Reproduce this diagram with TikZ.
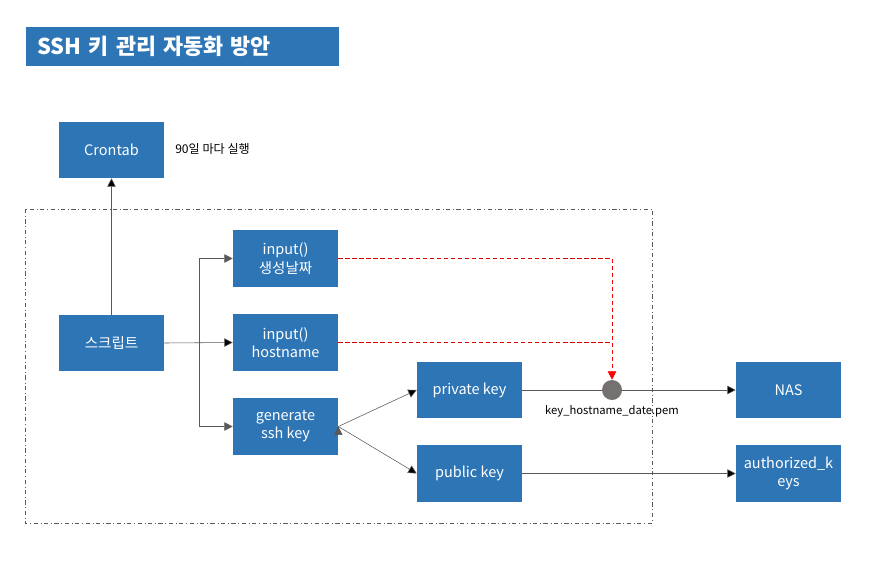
\documentclass[tikz,border=0pt]{standalone}
\usepackage{fontspec}
\setmainfont{Noto Sans CJK KR}
\usepackage{xcolor}
\definecolor{boxcolor}{HTML}{2E75B6}
\definecolor{linecolor}{HTML}{595959}
\definecolor{dotcolor}{HTML}{767171}
\usetikzlibrary{arrows.meta, positioning, calc}

\begin{document}
\begin{tikzpicture}
        [
          x=0.025cm, y=-0.025cm,
          stepbox/.style={fill=boxcolor, text=white, align=center, minimum width=2.625cm, minimum height=1.4cm, inner sep=1pt, font=\fontsize{10.3}{13}\selectfont},
          flow/.style={draw=linecolor, -{Triangle[length=6pt, width=6pt]}},
          plain/.style={draw=linecolor},
          hint/.style={draw=red!85!black, dash pattern=on 3pt off 2pt}
        ]
        \useasboundingbox (0,0) rectangle (880,564);

        % title
        \node (title) [fill=boxcolor, text=white, anchor=west, minimum width=7.825cm, minimum height=0.975cm,
          inner xsep=0.275cm, text width=7.275cm, align=left, font=\fontsize{15.5}{18}\selectfont\bfseries] at (26,46.5) {SSH 키 관리 자동화 방안};

        % script area
        \draw[linecolor, dash dot] (25,209) rectangle (652,523);

        \node (cron) [stepbox] at (111.5,150) {Crontab};
        \node (cronnote) [anchor=west, inner sep=0pt, font=\fontsize{8.6}{10}\selectfont] at (175,149) {90일 마다 실행};
        \node (script) [stepbox] at (111.5,343) {스크립트};
        \node (date) [stepbox] at (285.5,258.5) {input()\\생성날짜};
        \node (host) [stepbox] at (285.5,342.5) {input()\\hostname};
        \node (gen) [stepbox] at (285.5,426.5) {generate\\ssh key};
        \node (priv) [stepbox] at (469.5,390) {private key};
        \node (pub) [stepbox] at (469.5,473.5) {public key};
        \node (pem) [circle, fill=dotcolor, minimum size=0.5cm, inner sep=0pt] at (612,390) {};
        \node (pemlabel) [below=0.12cm of pem, inner sep=0pt, font=\fontsize{8}{10}\selectfont] {key\_hostname\_date.pem};
        \node (nas) [stepbox] at (788.5,390) {NAS};
        \node (auth) [stepbox] at (788.5,473.5) {authorized\_k\\eys};

        \coordinate (split) at (199,343);
        \coordinate (datecorner) at (612,258.5);
        \coordinate (hostcorner) at (612,342.5);

        \path[flow]
                          (script) edge (cron)
                          (script.east) edge (host.west)
                          (gen.east) edge (priv.west)
                          (gen.east) edge (pub.west)
                          (pem) edge (nas)
                          (pub) edge (auth);
        \draw[flow] (split) |- (date.west);
        \draw[flow] (split) |- (gen.west);
        \draw[plain] (priv) -- (pem);

        \draw[hint] (date.east) -- (datecorner);
        \draw[hint] (host.east) -- (hostcorner);
        \draw[hint, -{Triangle[length=6pt, width=6pt, fill=red]}, red] (datecorner) -- (pem.north);
      \end{tikzpicture}
\end{document}
